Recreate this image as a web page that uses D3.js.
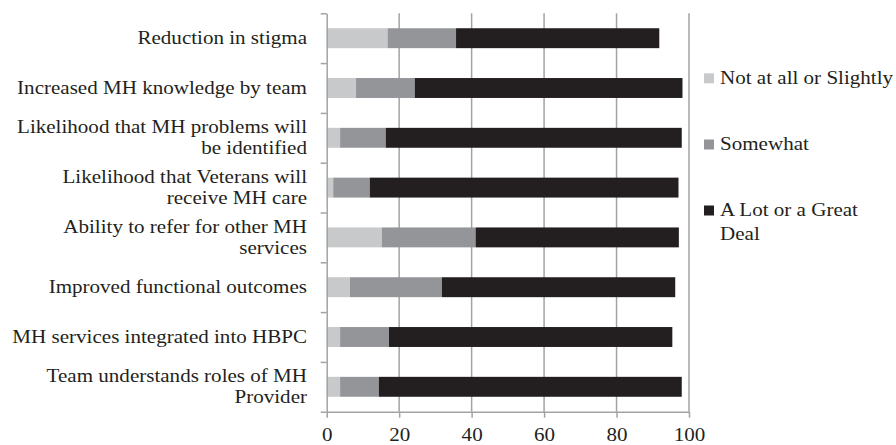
<!DOCTYPE html>
<html>
<head>
<meta charset="utf-8">
<script src="https://cdn.jsdelivr.net/npm/d3@7"></script>
<style>
  html, body { margin: 0; padding: 0; background: #fff; }
  svg { display: block; }
  text { font-family: "Liberation Serif", "Times New Roman", serif; fill: #231f20; }
</style>
</head>
<body>
<svg id="chart" width="896" height="445"></svg>
<script>
// ---- data ----
const categories = [
  "Reduction in stigma",
  "Increased MH knowledge by team",
  "Likelihood that MH problems will be identified",
  "Likelihood that Veterans will receive MH care",
  "Ability to refer for other MH services",
  "Improved functional outcomes",
  "MH services integrated into HBPC",
  "Team understands roles of MH Provider"
];
const seriesNames = ["Not at all or Slightly", "Somewhat", "A Lot or a Great Deal"];
const notAtAll = [16.8, 8.1, 3.7, 1.8, 15.2, 6.4, 3.7, 3.7];
const somewhat = [18.9, 16.2, 12.6, 10.1, 25.9, 25.4, 13.5, 10.7];
const aLot     = [56.1, 73.9, 81.7, 85.2, 56.1, 64.4, 78.2, 83.6];
const xTicks = [0, 20, 40, 60, 80, 100];

// ---- layout ----
const colors = ["#c8c9cb", "#939598", "#231f20"];
const plot = { left: 326.7, right: 689, top: 13.3, bottom: 411.7 };
const fontSize = 18, sx = 1.17, lineH = 21.5;
const axisColor = "#a3a3a3";

const svg = d3.select("#chart");

const x = d3.scaleLinear().domain([0, 100]).range([plot.left, plot.right]);
const y = d3.scaleBand().domain(categories).range([plot.top, plot.bottom])
  .paddingInner(0.6).paddingOuter(0.3);
const yIdx = d3.scaleLinear().domain([0, categories.length]).range([plot.top, plot.bottom]);

// gridlines
svg.append("g").selectAll("line").data(xTicks.filter(d => d > 0)).join("line")
  .attr("x1", d => x(d)).attr("x2", d => x(d))
  .attr("y1", plot.top).attr("y2", plot.bottom)
  .attr("stroke", axisColor).attr("stroke-width", 1.5);

// stacked bars
const rows = categories.map((c, i) => ({ cat: c, v0: notAtAll[i], v1: somewhat[i], v2: aLot[i] }));
const stack = d3.stack().keys(["v0", "v1", "v2"])(rows);
svg.append("g").selectAll("g").data(stack).join("g")
  .attr("fill", (d, i) => colors[i])
  .selectAll("rect").data(d => d).join("rect")
  .attr("x", d => x(d[0]))
  .attr("width", d => x(d[1]) - x(d[0]))
  .attr("y", d => y(d.data.cat))
  .attr("height", y.bandwidth());

// x axis
const xAxis = svg.append("g").attr("transform", `translate(0,${plot.bottom})`)
  .call(d3.axisBottom(x).tickValues(xTicks).tickSize(6).tickSizeOuter(0).tickFormat(d3.format("d")));
xAxis.select(".domain").attr("stroke", axisColor).attr("stroke-width", 1.5);
xAxis.selectAll(".tick line").attr("stroke", axisColor).attr("stroke-width", 1.5);
xAxis.selectAll(".tick text")
  .attr("y", 0).attr("dy", 0)
  .attr("font-size", fontSize)
  .attr("transform", `translate(0,28.8) scale(${sx},1)`)
  .attr("fill", "#231f20");

// y axis (ticks at band boundaries)
const yAxis = svg.append("g").attr("transform", `translate(${plot.left},0)`)
  .call(d3.axisLeft(yIdx).tickValues(d3.range(categories.length + 1)).tickSize(6).tickSizeOuter(0).tickFormat(""));
yAxis.select(".domain").attr("stroke", axisColor).attr("stroke-width", 1.5);
yAxis.selectAll(".tick line").attr("stroke", axisColor).attr("stroke-width", 1.5);

// word wrap helper (widths measured in scaled px)
function wrapLines(text, maxW) {
  const meas = svg.append("text").attr("font-size", fontSize);
  const words = text.split(" ");
  const lines = [];
  let cur = "";
  for (const w of words) {
    const test = cur ? cur + " " + w : w;
    meas.text(test);
    if (meas.node().getComputedTextLength() * sx > maxW && cur) {
      lines.push(cur); cur = w;
    } else cur = test;
  }
  lines.push(cur);
  meas.remove();
  return lines;
}

// category labels
const labelG = svg.append("g");
categories.forEach(c => {
  const lines = wrapLines(c, 305);
  const cy = y(c) + y.bandwidth() / 2;
  const firstBase = cy - (lines.length - 1) * lineH / 2 + fontSize * 0.33;
  const t = labelG.append("text")
    .attr("font-size", fontSize)
    .attr("text-anchor", "end")
    .attr("transform", `translate(307,${firstBase}) scale(${sx},1)`);
  lines.forEach((ln, j) => t.append("tspan").attr("x", 0).attr("y", j * lineH).text(ln));
});

// legend
const legendTop = [73.3, 139.5, 205.5];
const legend = svg.append("g");
seriesNames.forEach((name, i) => {
  legend.append("rect").attr("x", 704).attr("y", legendTop[i]).attr("width", 10).attr("height", 10)
    .attr("fill", colors[i]);
  const lines = wrapLines(name, 178);
  const t = legend.append("text").attr("font-size", fontSize)
    .attr("transform", `translate(720,${legendTop[i] + 10.3}) scale(${sx},1)`);
  lines.forEach((ln, j) => t.append("tspan").attr("x", 0).attr("y", j * 24.5).text(ln));
});
</script>
</body>
</html>
